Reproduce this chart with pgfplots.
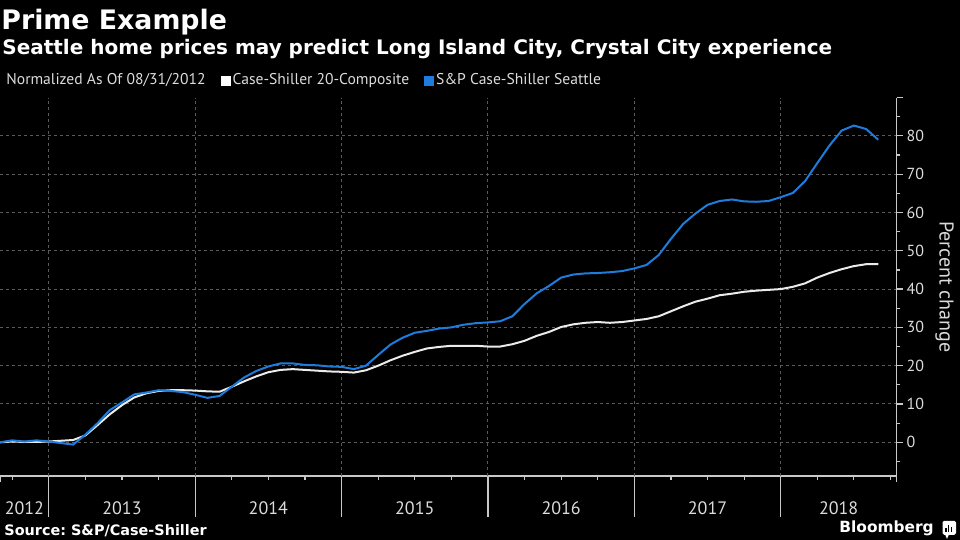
\documentclass[border=0pt]{standalone}
\usepackage{fontspec}
\setmainfont{PT Sans}
\newfontfamily\dejavu{DejaVu Sans}
\usepackage{pgfplots}
\pgfplotsset{compat=1.18}

\definecolor{bbblue}{HTML}{1E7CDC}
\definecolor{txt}{HTML}{DCDCDC}
\definecolor{gridc}{HTML}{5A5A5A}
\definecolor{axc}{HTML}{C8C8C8}

% month index 0 = Aug 2012, normalized percent change
\pgfplotstableread{
m   comp   sea
0   0.0    0.0
1   0.2    0.5
2   0.1    0.2
3   0.1    0.5
4   0.2    0.2
5   0.4   -0.2
6   0.6   -0.6
7   1.8    2.0
8   4.5    5.0
9   7.3    8.4
10  9.7   10.4
11  11.7  12.5
12  12.8  13.0
13  13.4  13.6
14  13.6  13.4
15  13.6  13.1
16  13.5  12.4
17  13.3  11.6
18  13.2  12.1
19  14.5  14.5
20  15.9  16.9
21  17.2  18.6
22  18.3  19.8
23  18.9  20.6
24  19.1  20.6
25  18.9  20.2
26  18.7  20.1
27  18.5  19.8
28  18.4  19.7
29  18.2  19.1
30  18.8  20.0
31  20.0  22.8
32  21.4  25.5
33  22.6  27.3
34  23.6  28.6
35  24.5  29.1
36  24.9  29.7
37  25.2  30.0
38  25.2  30.7
39  25.2  31.1
40  25.0  31.3
41  25.0  31.6
42  25.6  32.9
43  26.5  36.1
44  27.8  38.9
45  28.8  40.8
46  30.1  43.0
47  30.8  43.8
48  31.2  44.1
49  31.4  44.2
50  31.2  44.4
51  31.4  44.7
52  31.8  45.4
53  32.2  46.3
54  32.9  48.9
55  34.2  53.1
56  35.5  57.0
57  36.7  59.7
58  37.5  62.0
59  38.4  63.0
60  38.8  63.4
61  39.3  62.9
62  39.6  62.8
63  39.8  63.0
64  40.0  64.0
65  40.6  65.1
66  41.5  68.2
67  43.0  72.9
68  44.2  77.5
69  45.2  81.4
70  46.0  82.7
71  46.5  81.8
72  46.5  79.0
}\cs

\begin{document}
\begin{tikzpicture}[x=1pt,y=1pt]
\fill[black] (0,0) rectangle (480,270);

\node[anchor=base west, inner sep=0, text=white,
  font=\dejavu\bfseries\fontsize{13.4}{16}\selectfont] at (0.5,255) {Prime Example};
\node[anchor=base west, inner sep=0, text=white,
  font=\dejavu\bfseries\fontsize{10}{12}\selectfont] at (1,242.5)
  {Seattle home prices may predict Long Island City, Crystal City experience};

\begin{axis}[
  at={(0pt,32pt)}, anchor=south west,
  scale only axis, width=448.3pt, height=189.2pt,
  xmin=0, xmax=73.5, ymin=-8.8, ymax=90,
  axis x line*=bottom, axis y line*=right,
  axis line style={-, draw=axc, line width=0.6pt},
  tick align=outside,
  major tick length=3pt, minor tick length=1.8pt,
  tick style={draw=axc, line width=0.6pt},
  xtick={0,4,16,28,40,52,64,73.5},
  x tick label as interval,
  xticklabels={2012,2013,2014,2015,2016,2017,2018},
  minor xtick={1,7,10,13,19,22,25,31,34,37,43,46,49,55,58,61,67,70,73},
  extra x ticks={4,16,28,40,52,64},
  extra x tick labels={},
  extra x tick style={xmajorgrids=true, major tick length=20.5pt},
  ytick={0,10,...,80},
  minor ytick={-5,5,...,85},
  extra y ticks={90}, extra y tick labels={},
  extra y tick style={ymajorgrids=false},
  ymajorgrids=true,
  grid style={draw=gridc, dash pattern=on 1.5pt off 1.5pt, line width=0.5pt},
  /pgf/number format/assume math mode=true,
  tick label style={text=txt},
  yticklabel style={font=\fontsize{8}{9}\selectfont, xshift=-1.5pt},
  xticklabel style={font=\fontsize{9}{10}\selectfont, yshift=-6.5pt},
  ylabel={Percent change},
  ylabel style={at={(axis description cs:1.0535,0.5)}, anchor=center,
    rotate=180, text=txt, font=\fontsize{10}{12}\selectfont},
  legend columns=-1,
  legend style={at={(0,1)}, anchor=west, xshift=-1pt, yshift=8.5pt,
    draw=none, fill=none, text=txt, font=\fontsize{7.8}{9}\selectfont,
    nodes={inner xsep=1pt},
    /tikz/every even column/.append style={column sep=6.5pt}},
]
\addlegendimage{empty legend}
\addlegendentry{Normalized As Of 08/31/2012}
\addplot[white!92!black, line width=1pt,
  legend image code/.code={\fill[white] (0pt,-2pt) rectangle (4pt,2pt);}]
  table[x=m, y=comp] {\cs};
\addlegendentry{Case-Shiller 20-Composite}
\addplot[bbblue, line width=1pt,
  legend image code/.code={\fill[bbblue] (0pt,-2pt) rectangle (4pt,2pt);}]
  table[x=m, y=sea] {\cs};
\addlegendentry{S\&P Case-Shiller Seattle}
\end{axis}

\node[anchor=base west, inner sep=0, text=white,
  font=\dejavu\bfseries\fontsize{7.2}{9}\selectfont] at (2,2.3) {Source:\ S\&P/Case-Shiller};
\node[anchor=base west, inner sep=0, text=white,
  font=\dejavu\bfseries\fontsize{7.7}{9}\selectfont] at (419.5,3.5) {Bloomberg};
\fill[white, rounded corners=0.8pt] (471.3,2.6) rectangle (478,9.6);
\fill[white] (472.5,2.8) -- (473.5,0.6) -- (474.5,2.8) -- cycle;
\fill[black] (472.6,3.8) rectangle (473.3,6.0);
\fill[black] (474.0,3.8) rectangle (474.7,7.6);
\fill[black] (475.4,3.8) rectangle (476.1,6.4);

\pgfresetboundingbox
\useasboundingbox (0,0) rectangle (480,270);
\end{tikzpicture}
\end{document}
